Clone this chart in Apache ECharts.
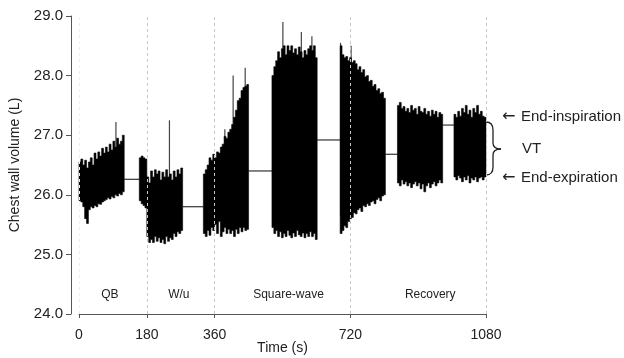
<!DOCTYPE html>
<html>
<head>
<meta charset="utf-8">
<script src="https://cdn.jsdelivr.net/npm/echarts@6/dist/echarts.min.js"></script>
<style>
    html, body { margin: 0; padding: 0; background: #fff; }
    #chart { width: 624px; height: 358px; }
</style>
</head>
<body>
<div id="chart"></div>
<script>
    // x axis ticks (s) and the phase boundaries drawn as dashed lines
    var timeTicks = [0, 180, 360, 720, 1080];
    var phaseBoundaries = [0, 180, 360, 720, 1080];

    // phase labels
    var phaseNames = ['QB', 'W/u', 'Square-wave', 'Recovery'];
    var phaseTimes = [82, 265, 556, 932];
    var phaseLevel = 24.32;

    // breathing trace: end-expiration / end-inspiration per 5 s slice
    var step = 5;
    var segStarts = [0, 160, 330, 512, 693, 845, 995];
    var qbTop = [26.55, 26.6, 26.5, 26.58, 26.45, 26.55, 26.62, 26.5, 26.7, 26.6, 26.72, 26.65, 26.78, 26.7, 26.8, 26.72, 26.85, 26.75, 26.9, 26.8, 26.95, 26.85, 26.9, 27.0];
    var qbBottom = [25.9, 25.88, 25.8, 25.6, 25.52, 25.75, 25.8, 25.78, 25.82, 25.8, 25.85, 25.84, 25.88, 25.9, 25.92, 25.95, 25.93, 25.97, 25.95, 26.0, 25.98, 26.02, 26.0, 26.05];
    var wuTop = [26.62, 26.65, 26.62, 26.6, 26.3, 26.2, 26.4, 26.3, 26.42, 26.35, 26.4, 26.25, 26.38, 26.3, 26.42, 26.3, 26.35, 26.25, 26.4, 26.3, 26.42, 26.35, 26.45];
    var wuBottom = [25.9, 25.85, 25.82, 25.78, 25.3, 25.2, 25.25, 25.2, 25.3, 25.22, 25.28, 25.2, 25.25, 25.18, 25.3, 25.22, 25.28, 25.25, 25.35, 25.3, 25.38, 25.35, 25.4];
    var sqTop = [26.35, 26.42, 26.5, 26.62, 26.58, 26.68, 26.62, 26.72, 26.7, 26.8, 26.85, 26.98, 26.95, 27.05, 27.1, 27.18, 27.3, 27.42, 27.58, 27.62, 27.75, 27.8, 27.82, 27.85];
    var sqBottom = [25.35, 25.3, 25.4, 25.32, 25.45, 25.4, 25.5, 25.35, 25.55, 25.3, 25.38, 25.45, 25.35, 25.42, 25.35, 25.4, 25.3, 25.42, 25.35, 25.45, 25.38, 25.45, 25.4, 25.42];
    var sq2Top = [28.0, 28.15, 28.25, 28.4, 28.3, 28.45, 28.5, 28.35, 28.5, 28.42, 28.5, 28.38, 28.45, 28.35, 28.48, 28.4, 28.3, 28.42, 28.35, 28.45, 28.5, 28.42, 28.5, 28.3];
    var sq2Bottom = [25.45, 25.35, 25.4, 25.3, 25.38, 25.28, 25.35, 25.3, 25.4, 25.32, 25.28, 25.36, 25.3, 25.4, 25.33, 25.3, 25.36, 25.28, 25.35, 25.3, 25.38, 25.3, 25.35, 25.25];
    var recTop = [28.5, 28.35, 28.3, 28.32, 28.25, 28.3, 28.22, 28.25, 28.2, 28.1, 28.15, 28.05, 28.1, 27.98, 28.0, 27.9, 27.92, 27.82, 27.85, 27.75, 27.78, 27.7, 27.72, 27.62];
    var recBottom = [25.35, 25.4, 25.48, 25.45, 25.55, 25.6, 25.62, 25.7, 25.68, 25.75, 25.78, 25.72, 25.82, 25.8, 25.85, 25.82, 25.88, 25.9, 25.85, 25.92, 25.95, 25.9, 25.98, 26.0];
    var rec2Top = [27.5, 27.55, 27.45, 27.48, 27.4, 27.45, 27.38, 27.5, 27.42, 27.45, 27.35, 27.48, 27.4, 27.38, 27.45, 27.35, 27.4, 27.32, 27.42, 27.35, 27.4, 27.3, 27.38, 27.35];
    var rec2Bottom = [26.2, 26.15, 26.25, 26.18, 26.22, 26.15, 26.2, 26.12, 26.18, 26.22, 26.15, 26.2, 26.1, 26.18, 26.05, 26.15, 26.2, 26.12, 26.18, 26.22, 26.15, 26.2, 26.25, 26.2];
    var rec3Top = [27.35, 27.3, 27.4, 27.32, 27.45, 27.38, 27.5, 27.35, 27.42, 27.3, 27.45, 27.38, 27.5, 27.35, 27.4, 27.32, 27.3];
    var rec3Bottom = [26.3, 26.25, 26.32, 26.28, 26.22, 26.3, 26.25, 26.32, 26.2, 26.28, 26.25, 26.3, 26.22, 26.28, 26.3, 26.25, 26.3];

    // flat trace between the recorded pieces
    var gapLevels = [26.26, 25.80, 26.40, 26.92, 26.68, 27.17];

    // single breaths that stick out above the band
    var spikeTimes = [98, 240, 387, 409, 441, 541, 590, 618, 694, 722];
    var spikeValues = [27.22, 27.25, 27.1, 28.0, 28.13, 28.9, 28.73, 28.66, 28.55, 28.5];

    var segTops = [qbTop, wuTop, sqTop, sq2Top, recTop, rec2Top, rec3Top];
    var segBottoms = [qbBottom, wuBottom, sqBottom, sq2Bottom, recBottom, rec2Bottom, rec3Bottom];

    var font = "'Liberation Sans', Arial, sans-serif";
    var textColor = '#222';
    var axisColor = '#555';

    // one item per recorded piece: [start, end, index]
    var segData = [];
    var segEnds = [];
    segStarts.forEach(function (s, k) {
        var e = s + segTops[k].length * step;
        segEnds.push(e);
        segData.push([s, e, k]);
    });

    var gapData = gapLevels.map(function (v, k) {
        return [segEnds[k], segStarts[k + 1], v];
    });

    function bandBottomAt(t) {
        for (var k = 0; k < segStarts.length; k++) {
            if (t >= segStarts[k] && t < segEnds[k]) {
                var i = Math.floor((t - segStarts[k]) / step);
                return segBottoms[k][i] + 0.3;
            }
        }
        return 26;
    }
    var spikeData = spikeTimes.map(function (t, i) {
        return [t, spikeValues[i], bandBottomAt(t)];
    });

    var phaseData = phaseNames.map(function (n, i) {
        return [phaseTimes[i], phaseLevel];
    });

    var chart = echarts.init(document.getElementById('chart'), null, {renderer: 'canvas'});

    var option = {
        backgroundColor: '#fff',
        animation: false,
        grid: {left: 79, right: 138, top: 16, bottom: 44, outerBoundsMode: 'none', containLabel: false},
        xAxis: {
            type: 'value',
            min: 0,
            max: 1080,
            interval: 180,
            name: 'Time (s)',
            nameLocation: 'middle',
            nameGap: 27,
            nameMoveOverlap: false,
            nameTextStyle: {color: textColor, fontSize: 14, fontFamily: font},
            axisLine: {show: true, onZero: false, lineStyle: {color: axisColor, width: 1}},
            axisTick: {show: true, length: 4, customValues: timeTicks, lineStyle: {color: axisColor}},
            axisLabel: {
                customValues: timeTicks,
                margin: 14,
                color: textColor,
                fontSize: 14,
                fontFamily: font,
                formatter: function (v) { return String(v); }
            },
            splitLine: {show: false}
        },
        yAxis: {
            type: 'value',
            min: 24,
            max: 29,
            interval: 1,
            offset: 8,
            name: 'Chest wall volume (L)',
            nameLocation: 'middle',
            nameGap: 49,
            nameMoveOverlap: false,
            nameTextStyle: {color: textColor, fontSize: 14, fontFamily: font},
            axisLine: {show: true, onZero: false, lineStyle: {color: axisColor, width: 1}},
            axisTick: {show: true, length: 5, lineStyle: {color: axisColor}},
            axisLabel: {
                margin: 8,
                color: textColor,
                fontSize: 15,
                fontFamily: font,
                formatter: function (v) { return v.toFixed(1); }
            },
            splitLine: {show: false}
        },
        series: [
            {
                // breathing trace, filled between end-exp and end-insp
                type: 'custom',
                name: 'trace',
                data: segData,
                encode: {x: [0, 1]},
                renderItem: function (params, api) {
                    var k = api.value(2);
                    var s = api.value(0);
                    var tops = segTops[k], bots = segBottoms[k];
                    var upper = [], lower = [];
                    for (var i = 0; i < tops.length; i++) {
                        var t0 = s + i * step, t1 = t0 + step;
                        upper.push(api.coord([t0, tops[i]]), api.coord([t1, tops[i]]));
                        lower.push(api.coord([t0, bots[i]]), api.coord([t1, bots[i]]));
                    }
                    return {
                        type: 'polygon',
                        shape: {points: upper.concat(lower.reverse())},
                        style: {fill: '#000', stroke: '#000', lineWidth: 0.6}
                    };
                },
                markLine: {
                    silent: true,
                    symbol: 'none',
                    label: {show: false},
                    lineStyle: {color: '#c8c8c8', type: [3, 3], width: 1},
                    data: phaseBoundaries.map(function (v) {
                        // the line at 0 is barely visible in the original
                        return v === 0 ? {xAxis: v, lineStyle: {color: '#eeeeee'}} : {xAxis: v};
                    })
                },
                z: 3
            },
            {
                type: 'custom',
                name: 'spikes',
                data: spikeData,
                encode: {x: 0, y: [1, 2]},
                renderItem: function (params, api) {
                    var a = api.coord([api.value(0), api.value(1)]);
                    var b = api.coord([api.value(0), api.value(2)]);
                    return {
                        type: 'line',
                        shape: {x1: a[0], y1: a[1], x2: b[0], y2: b[1]},
                        style: {stroke: '#444', lineWidth: 1.2}
                    };
                },
                z: 2
            },
            {
                type: 'custom',
                name: 'gaps',
                data: gapData,
                encode: {x: [0, 1], y: 2},
                renderItem: function (params, api) {
                    var a = api.coord([api.value(0), api.value(2)]);
                    var b = api.coord([api.value(1), api.value(2)]);
                    return {
                        type: 'line',
                        shape: {x1: a[0], y1: a[1], x2: b[0], y2: b[1]},
                        style: {stroke: '#333', lineWidth: 1.2}
                    };
                },
                z: 2
            },
            {
                type: 'custom',
                name: 'phases',
                data: phaseData,
                encode: {x: 0, y: 1},
                renderItem: function (params, api) {
                    var p = api.coord([api.value(0), api.value(1)]);
                    return {
                        type: 'text',
                        x: p[0],
                        y: p[1],
                        style: {
                            text: phaseNames[params.dataIndex],
                            textAlign: 'center',
                            textVerticalAlign: 'middle',
                            fill: textColor,
                            font: '12px ' + font
                        }
                    };
                },
                z: 4
            }
        ],
        // annotation on the right: brace and labels
        graphic: [
            {type: 'bezierCurve', shape: {x1: 486, y1: 122, cpx1: 493, cpy1: 122, x2: 493, y2: 130}, style: {stroke: '#222', lineWidth: 1.3, fill: null}},
            {type: 'line', shape: {x1: 493, y1: 130, x2: 493, y2: 143}, style: {stroke: '#222', lineWidth: 1.3}},
            {type: 'bezierCurve', shape: {x1: 493, y1: 143, cpx1: 493, cpy1: 149, x2: 501, y2: 149}, style: {stroke: '#222', lineWidth: 1.3, fill: null}},
            {type: 'bezierCurve', shape: {x1: 501, y1: 149, cpx1: 493, cpy1: 149, x2: 493, y2: 155}, style: {stroke: '#222', lineWidth: 1.3, fill: null}},
            {type: 'line', shape: {x1: 493, y1: 155, x2: 493, y2: 167}, style: {stroke: '#222', lineWidth: 1.3}},
            {type: 'bezierCurve', shape: {x1: 493, y1: 167, cpx1: 493, cpy1: 175, x2: 486, y2: 175}, style: {stroke: '#222', lineWidth: 1.3, fill: null}},
            {type: 'text', left: 502, top: 109, style: {text: '\u2190', fill: textColor, font: "16px 'DejaVu Sans'"}},
            {type: 'text', left: 521, top: 109, style: {text: 'End-inspiration', fill: textColor, font: '15px ' + font}},
            {type: 'text', left: 522, top: 141, style: {text: 'VT', fill: textColor, font: '15px ' + font}},
            {type: 'text', left: 502, top: 170, style: {text: '\u2190', fill: textColor, font: "16px 'DejaVu Sans'"}},
            {type: 'text', left: 521, top: 170, style: {text: 'End-expiration', fill: textColor, font: '15px ' + font}}
        ]
    };

    chart.setOption(option);
</script>
</body>
</html>
